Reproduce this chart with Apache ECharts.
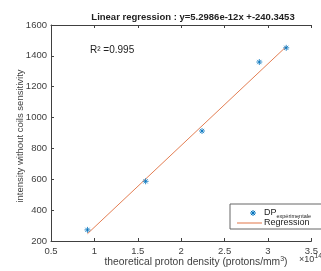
<!DOCTYPE html>
<html>
<head>
<meta charset="utf-8">
<script src="https://cdn.jsdelivr.net/npm/echarts@6/dist/echarts.min.js"></script>
<style>
html,body{margin:0;padding:0;background:#fff;}
#main{width:321px;height:271px;}
</style>
</head>
<body>
<div id="main"></div>
<script>
// measured points (x in 1e14 protons/mm3)
var densityX = [0.92, 1.59, 2.24, 2.90, 3.21];
var intensityY = [272, 587, 913, 1360, 1452];
// regression line ends
var regX = [0.92, 3.21];
var regY = [247, 1460];
var xTicks = ['0.5', '1', '1.5', '2', '2.5', '3', '3.5'];
var yTicks = ['200', '400', '600', '800', '1000', '1200', '1400', '1600'];

var titleText = 'Linear regression : y=5.2986e-12x +-240.3453';
var axisCol = '#404040';
var fontFam = '"Liberation Sans", Arial, sans-serif';
var starPath = 'path://M0,-5L0,5M-5,0L5,0M-3.5,-3.5L3.5,3.5M-3.5,3.5L3.5,-3.5';

function pairs(a, b){
	var out = [];
	for(var i = 0;i<a.length;i++){
		out.push([a[i], b[i]]);
	}
	return out;
}

/**
 * 图例里的星号
 */
function legendStar(cx, cy, r){
	var d = r * 0.7;
	var segs = [[0, -r, 0, r], [-r, 0, r, 0], [-d, -d, d, d], [-d, d, d, -d]];
	var out = [];
	for(var i = 0;i<segs.length;i++){
		out.push({type: 'line',
			shape: {x1: cx + segs[i][0], y1: cy + segs[i][1], x2: cx + segs[i][2], y2: cy + segs[i][3]},
			style: {stroke: '#0072BD', lineWidth: 1}});
	}
	return out;
}

var legendChildren = [
	{type: 'rect', shape: {x: 0, y: 0, width: 95, height: 25},
		style: {fill: '#fff', stroke: '#666', lineWidth: 1}},
	{type: 'text', x: 34, y: 9,
		style: {text: 'DP{sub|expérimentale}', fontSize: 9, fill: '#222', fontFamily: fontFam,
			verticalAlign: 'middle',
			rich: {sub: {fontSize: 5.5, padding: [6, 0, 0, 0], fill: '#222'}}}},
	{type: 'line', shape: {x1: 7, y1: 19, x2: 32, y2: 19},
		style: {stroke: '#D95319', lineWidth: 1, opacity: 0.8}},
	{type: 'text', x: 34, y: 19,
		style: {text: 'Regression', fontSize: 9, fill: '#222', fontFamily: fontFam,
			verticalAlign: 'middle'}}
].concat(legendStar(23, 9, 3));

var chart = echarts.init(document.getElementById('main'));

var option = {
	backgroundColor: '#fff',
	animation: false,
	textStyle: {fontFamily: fontFam},
	title: {
		text: titleText,
		left: 188,
		textAlign: 'center',
		top: 7,
		textStyle: {fontSize: 9.5, fontWeight: 'bold', color: '#222', fontFamily: fontFam}
	},
	grid: {left: 51, right: -4, top: 25, bottom: 30},
	xAxis: [
		{
			type: 'value', min: 0.5, max: 3.5, interval: 0.5,
			axisLine: {lineStyle: {color: axisCol}},
			axisTick: {inside: true, length: 3, lineStyle: {color: axisCol}},
			axisLabel: {color: axisCol, fontSize: 9.5, margin: 5,
				formatter: function(v){ return xTicks[Math.round((v - 0.5) / 0.5)]; }},
			splitLine: {show: false}
		},
		{
			type: 'value', position: 'top', min: 0.5, max: 3.5, interval: 0.5,
			axisLine: {show: true, lineStyle: {color: axisCol}},
			axisTick: {inside: true, length: 3, lineStyle: {color: axisCol}},
			axisLabel: {show: false},
			splitLine: {show: false}
		}
	],
	yAxis: {
		type: 'value', min: 200, max: 1600, interval: 200,
		axisLine: {show: true, lineStyle: {color: axisCol}},
		axisTick: {show: true, inside: true, length: 3, lineStyle: {color: axisCol}},
		axisLabel: {color: axisCol, fontSize: 9.5, margin: 4,
			formatter: function(v){ return yTicks[Math.round((v - 200) / 200)]; }},
		splitLine: {show: false}
	},
	graphic: [
		{
			type: 'text', left: 90, top: 45,
			style: {text: 'R² =0.995', fontSize: 10, fill: '#222', fontFamily: fontFam}
		},
		{
			type: 'text', x: 20, y: 136, rotation: Math.PI / 2,
			style: {
				text: 'intensity without coils sensitivity',
				fontSize: 9.5, fill: axisCol, fontFamily: fontFam,
				align: 'center', verticalAlign: 'middle'
			}
		},
		{
			type: 'text', x: 196, y: 262,
			style: {
				text: 'theoretical proton density (protons/mm{s|3})',
				fontSize: 10.3, fill: axisCol, fontFamily: fontFam,
				align: 'center', verticalAlign: 'middle',
				rich: {s: {fontSize: 7, verticalAlign: 'top', padding: [0, 0, 6, 0], fill: axisCol}}
			}
		},
		{
			type: 'text', left: 299, top: 253,
			style: {
				text: '×10{s|14}', fontSize: 9, fill: axisCol, fontFamily: fontFam,
				rich: {s: {fontSize: 7, verticalAlign: 'top', padding: [0, 0, 6, 0]}}
			}
		},
		{
			type: 'group', x: 230, y: 204,
			children: legendChildren
		}
	],
	series: [
		{
			name: 'Regression',
			type: 'line',
			data: pairs(regX, regY),
			symbol: 'none',
			lineStyle: {color: '#D95319', width: 1, opacity: 0.75},
			z: 2
		},
		{
			name: 'DP',
			type: 'scatter',
			data: pairs(densityX, intensityY),
			symbol: starPath,
			symbolSize: 6,
			itemStyle: {color: 'none', borderColor: '#0072BD', borderWidth: 1},
			z: 3
		}
	]
};

chart.setOption(option);
</script>
</body>
</html>
